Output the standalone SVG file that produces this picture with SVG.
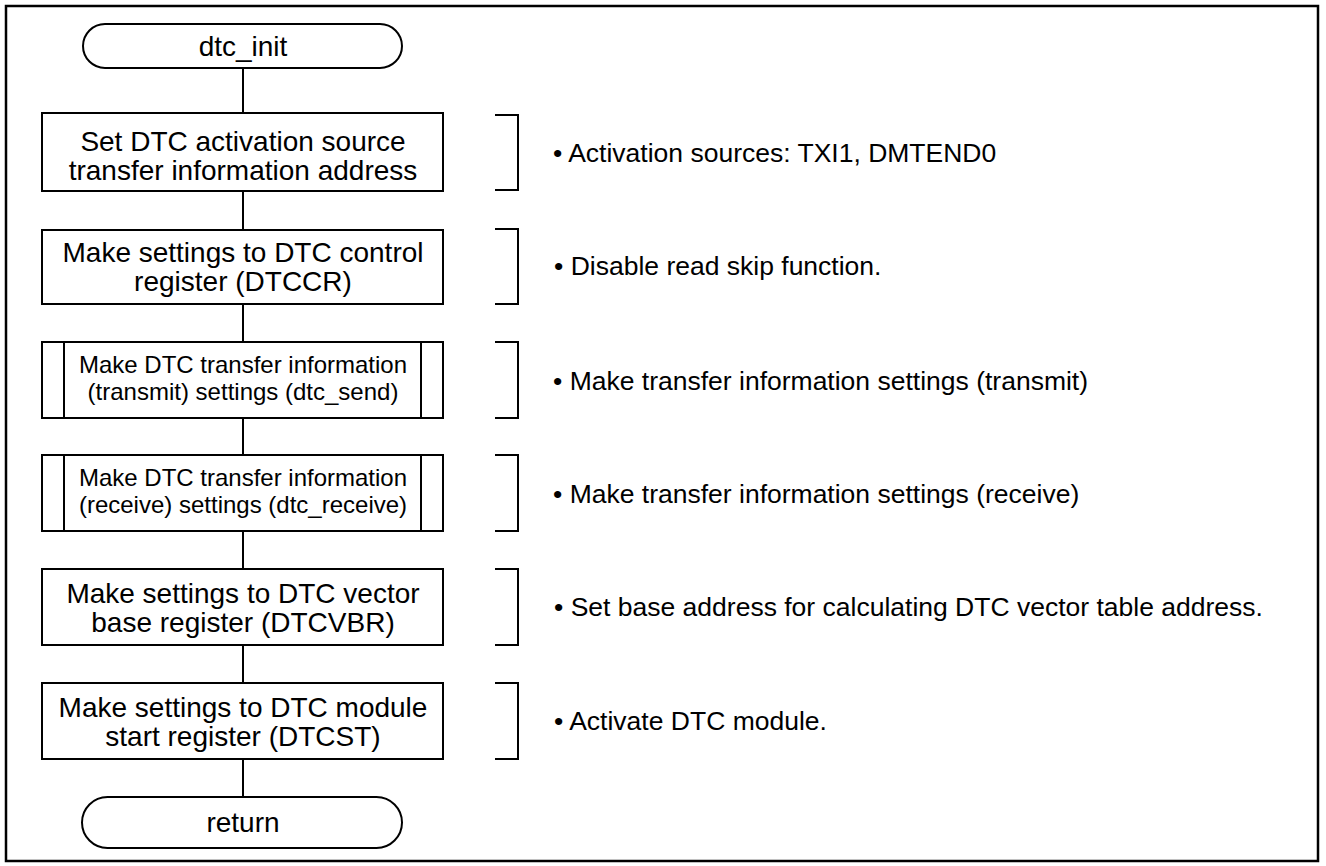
<svg xmlns="http://www.w3.org/2000/svg" width="1326" height="866" viewBox="0 0 1326 866">
  <style>
    .shape { fill: #ffffff; stroke: #000000; stroke-width: 2; }
    .line { fill: none; stroke: #000000; stroke-width: 2; }
    .t { font-family: "Liberation Sans", Arial, sans-serif; font-size: 28px; fill: #000000; text-anchor: middle; }
    .ts { font-family: "Liberation Sans", Arial, sans-serif; font-size: 24px; fill: #000000; text-anchor: middle; }
    .note { font-family: "Liberation Sans", Arial, sans-serif; font-size: 26.5px; fill: #000000; }
  </style>

  <!-- outer frame -->
  <rect x="6" y="6" width="1312" height="855" fill="#ffffff" stroke="#000000" stroke-width="2.5"/>

  <!-- flow connectors -->
  <g id="connectors">
    <line class="line" x1="243" y1="68" x2="243" y2="113"/>
    <line class="line" x1="243" y1="191" x2="243" y2="230"/>
    <line class="line" x1="243" y1="304" x2="243" y2="342"/>
    <line class="line" x1="243" y1="418" x2="243" y2="455"/>
    <line class="line" x1="243" y1="531" x2="243" y2="569"/>
    <line class="line" x1="243" y1="645" x2="243" y2="683"/>
    <line class="line" x1="243" y1="759" x2="243" y2="797"/>
  </g>

  <g id="start">
    <rect class="shape" x="83" y="24" width="319" height="44" rx="22" ry="22"/>
    <text class="t" x="243" y="56">dtc_init</text>
  </g>

  <g id="step1">
    <rect class="shape" x="42" y="113" width="401" height="78"/>
    <text class="t" x="243" y="151">Set DTC activation source</text>
    <text class="t" x="243" y="180">transfer information address</text>
  </g>

  <g id="step2">
    <rect class="shape" x="42" y="230" width="401" height="74"/>
    <text class="t" x="243" y="262">Make settings to DTC control</text>
    <text class="t" x="243" y="291">register (DTCCR)</text>
  </g>

  <g id="step3">
    <rect class="shape" x="42" y="342" width="401" height="76"/>
    <line class="line" x1="64" y1="342" x2="64" y2="418"/>
    <line class="line" x1="421" y1="342" x2="421" y2="418"/>
    <text class="ts" x="243" y="373">Make DTC transfer information</text>
    <text class="ts" x="243" y="400">(transmit) settings (dtc_send)</text>
  </g>

  <g id="step4">
    <rect class="shape" x="42" y="455" width="401" height="76"/>
    <line class="line" x1="64" y1="455" x2="64" y2="531"/>
    <line class="line" x1="421" y1="455" x2="421" y2="531"/>
    <text class="ts" x="243" y="486">Make DTC transfer information</text>
    <text class="ts" x="243" y="513">(receive) settings (dtc_receive)</text>
  </g>

  <g id="step5">
    <rect class="shape" x="42" y="569" width="401" height="76"/>
    <text class="t" x="243" y="603">Make settings to DTC vector</text>
    <text class="t" x="243" y="632">base register (DTCVBR)</text>
  </g>

  <g id="step6">
    <rect class="shape" x="42" y="683" width="401" height="76"/>
    <text class="t" x="243" y="717">Make settings to DTC module</text>
    <text class="t" x="243" y="746">start register (DTCST)</text>
  </g>

  <g id="end">
    <rect class="shape" x="82" y="797" width="320" height="51" rx="25.5" ry="25.5"/>
    <text class="t" x="243" y="832">return</text>
  </g>

  <!-- annotation brackets and notes -->
  <g id="note1">
    <polyline class="line" points="495,115 518,115 518,190 495,190"/>
    <text class="note" x="553" y="162">• Activation sources: TXI1, DMTEND0</text>
  </g>
  <g id="note2">
    <polyline class="line" points="495,229 518,229 518,304 495,304"/>
    <text class="note" x="554" y="275">• Disable read skip function.</text>
  </g>
  <g id="note3">
    <polyline class="line" points="495,342 518,342 518,418 495,418"/>
    <text class="note" x="553" y="390">• Make transfer information settings (transmit)</text>
  </g>
  <g id="note4">
    <polyline class="line" points="495,455 518,455 518,531 495,531"/>
    <text class="note" x="553" y="503">• Make transfer information settings (receive)</text>
  </g>
  <g id="note5">
    <polyline class="line" points="495,569 518,569 518,645 495,645"/>
    <text class="note" x="554" y="616">• Set base address for calculating DTC vector table address.</text>
  </g>
  <g id="note6">
    <polyline class="line" points="495,683 518,683 518,759 495,759"/>
    <text class="note" x="554" y="730">• Activate DTC module.</text>
  </g>
</svg>
